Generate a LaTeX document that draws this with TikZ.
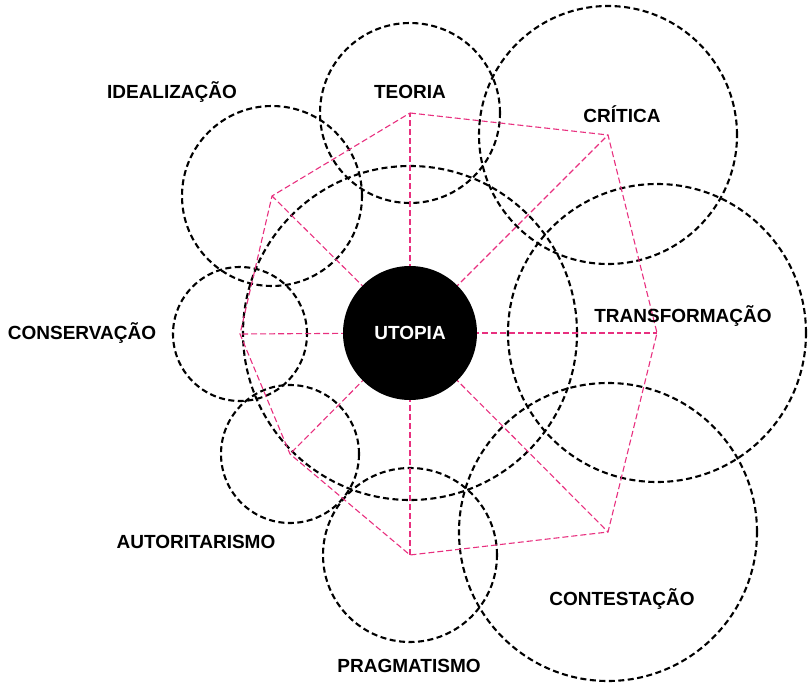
\documentclass[tikz,border=0pt]{standalone}
\usepackage{fontspec}
\setmainfont{Liberation Sans}
\definecolor{pinkline}{HTML}{E8307F}
\begin{document}
\begin{tikzpicture}[x=1pt,y=-1pt,
  ring/.style={circle,draw=black,line width=2.1pt,dash pattern=on 6pt off 3.5pt,inner sep=0pt,minimum size=#1},
  spoke/.style={draw=pinkline,line width=1.1pt,dash pattern=on 6pt off 3pt},
  lab/.style={font=\bfseries\fontsize{19}{21}\selectfont,text=black,inner sep=0pt},
  core/.style={circle,fill=black,inner sep=0pt,minimum size=134pt,text=white,font=\bfseries\fontsize{19}{21}\selectfont}]
\useasboundingbox (0,0) rectangle (811,684);
% vertex coordinates
\coordinate (c) at (410,333);
\coordinate (te) at (410,113);
\coordinate (cr) at (608,135);
\coordinate (tr) at (657,333);
\coordinate (co) at (608,532);
\coordinate (pr) at (410,555);
\coordinate (au) at (290,454);
\coordinate (cs) at (240,334);
\coordinate (id) at (272,196);
% dashed circles
\node[ring=334pt] (big) at (c) {};
\node[ring=180pt] (teC) at (te) {};
\node[ring=258pt] (crC) at (cr) {};
\node[ring=298pt] (trC) at (tr) {};
\node[ring=298pt] (coC) at (co) {};
\node[ring=174pt] (prC) at (pr) {};
\node[ring=138pt] (auC) at (au) {};
\node[ring=134pt] (csC) at (cs) {};
\node[ring=180pt] (idC) at (id) {};
% pink polygon and spokes
\draw[spoke] (te) -- (cr) -- (tr) -- (co) -- (pr) -- (au) -- (cs) -- (id) -- cycle;
\foreach \v in {te,cr,tr,co,pr,au,cs,id} \draw[spoke] (c) -- (\v);
% labels
\node[lab] (lte) at (410,92) {TEORIA};
\node[lab] (lcr) at (622,114) {CRÍTICA};
\node[lab] (ltr) at (683,316) {TRANSFORMAÇÃO};
\node[lab] (lco) at (622,599) {CONTESTAÇÃO};
\node[lab] (lpr) at (409,666) {PRAGMATISMO};
\node[lab] (lau) at (196,542) {AUTORITARISMO};
\node[lab] (lcs) at (82,333) {CONSERVAÇÃO};
\node[lab] (lid) at (172,92) {IDEALIZAÇÃO};
\node[core] (utopia) at (c) {UTOPIA};
\end{tikzpicture}
\end{document}
